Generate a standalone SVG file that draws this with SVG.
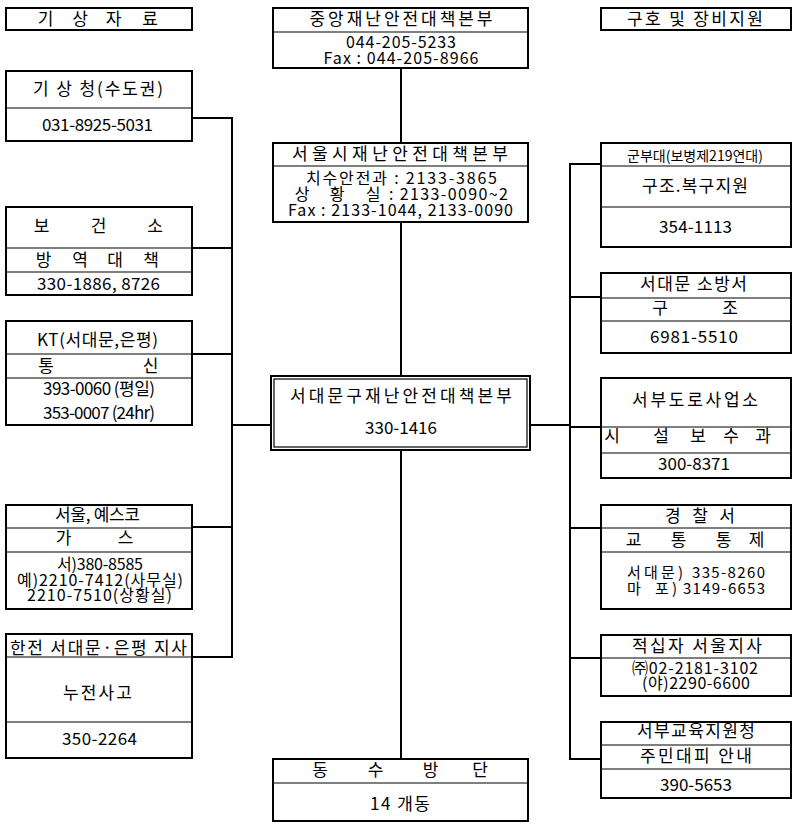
<svg xmlns="http://www.w3.org/2000/svg" width="795" height="829" viewBox="0 0 795 829">
<style>
  .box{fill:#fff;stroke:#000;stroke-width:2}
  .div{stroke:#000;stroke-width:1.2;fill:none}
  .con{stroke:#000;stroke-width:2;fill:none}
  text{font-family:"Noto Sans CJK KR","Malgun Gothic","Noto Sans",sans-serif;font-size:17px;fill:#000}
  .m{text-anchor:middle}
  .sm{font-size:14px}
  .t{font-size:16px}
  .tt{font-size:15px}
</style>
<rect width="795" height="829" fill="#fff"/>
<g id="connectors">
  <path class="con" d="M401 69V142M401 223V375M401 451V758"/>
  <path class="con" d="M193 118H232V657H193M193 248H232M193 354H232M193 527H232M232 425H270"/>
  <path class="con" d="M600 164H570V759H600M570 297H600M570 427H600M570 528H600M570 658H600M531 425H570"/>
</g>
<g id="n-weather-header">
  <rect class="box" x="6" y="8" width="186" height="22"/>
  <text class="m" x="45.5" y="25">기</text><text class="m" x="80" y="25">상</text><text class="m" x="113.5" y="25">자</text><text class="m" x="150" y="25">료</text>
</g>
<g id="n-central">
  <rect class="box" x="273" y="8" width="255" height="60"/>
  <line class="div" x1="273" y1="32" x2="528" y2="32"/>
  <text class="m" x="401" y="25" textLength="183" lengthAdjust="spacing">중앙재난안전대책본부</text>
  <text class="m t" x="401" y="48" textLength="110" lengthAdjust="spacing">044-205-5233</text>
  <text class="m t" x="401" y="64" textLength="155" lengthAdjust="spacing">Fax : 044-205-8966</text>
</g>
<g id="n-relief-header">
  <rect class="box" x="601" y="8" width="190" height="22"/>
  <text class="m" x="695" y="25" textLength="136" lengthAdjust="spacing">구호 및 장비지원</text>
</g>
<g id="n-kma">
  <rect class="box" x="6" y="71" width="186" height="70"/>
  <line class="div" x1="6" y1="108" x2="192" y2="108"/>
  <text class="m" x="98" y="95" textLength="130" lengthAdjust="spacing">기 상 청(수도권)</text>
  <text class="m" x="97.5" y="131" textLength="111" lengthAdjust="spacing">031-8925-5031</text>
</g>
<g id="n-seoul">
  <rect class="box" x="273" y="143" width="255" height="79"/>
  <line class="div" x1="273" y1="166" x2="528" y2="166"/>
  <text class="m" x="400" y="160" textLength="216" lengthAdjust="spacing">서울시재난안전대책본부</text>
  <text class="m t" x="401.5" y="184" textLength="191" lengthAdjust="spacing">치수안전과 : 2133-3865</text>
  <text class="m t" x="302" y="200">상</text><text class="m t" x="337" y="200">황</text><text class="m t" x="373" y="200">실</text>
  <text class="t" x="389" y="200" textLength="119" lengthAdjust="spacing">: 2133-0090~2</text>
  <text class="m t" x="400.5" y="216" textLength="225" lengthAdjust="spacing">Fax : 2133-1044, 2133-0090</text>
</g>
<g id="n-army">
  <rect class="box" x="601" y="143" width="190" height="104"/>
  <line class="div" x1="601" y1="166" x2="791" y2="166"/>
  <line class="div" x1="601" y1="207" x2="791" y2="207"/>
  <text class="m sm" x="695" y="161" textLength="136" lengthAdjust="spacingAndGlyphs">군부대(보병제219연대)</text>
  <text class="m" x="695" y="192" textLength="106" lengthAdjust="spacing">구조.복구지원</text>
  <text class="m" x="695.5" y="233" textLength="73" lengthAdjust="spacing">354-1113</text>
</g>
<g id="n-health">
  <rect class="box" x="6" y="207" width="186" height="88"/>
  <line class="div" x1="6" y1="248" x2="192" y2="248"/>
  <line class="div" x1="6" y1="272" x2="192" y2="272"/>
  <text class="m" x="41.5" y="232">보</text><text class="m" x="98.5" y="232">건</text><text class="m" x="155" y="232">소</text>
  <text class="m" x="43.5" y="266">방</text><text class="m" x="80" y="266">역</text><text class="m" x="115" y="266">대</text><text class="m" x="151" y="266">책</text>
  <text class="m" x="98.5" y="290" textLength="123" lengthAdjust="spacing">330-1886, 8726</text>
</g>
<g id="n-fire">
  <rect class="box" x="601" y="273" width="190" height="80"/>
  <line class="div" x1="601" y1="298" x2="791" y2="298"/>
  <line class="div" x1="601" y1="321" x2="791" y2="321"/>
  <text class="m" x="693.5" y="290" textLength="107" lengthAdjust="spacing">서대문 소방서</text>
  <text class="m" x="660" y="314">구</text><text class="m" x="730" y="314">조</text>
  <text class="m" x="694" y="343" textLength="88" lengthAdjust="spacing">6981-5510</text>
</g>
<g id="n-kt">
  <rect class="box" x="6" y="321" width="186" height="104"/>
  <line class="div" x1="6" y1="354" x2="192" y2="354"/>
  <line class="div" x1="6" y1="378" x2="192" y2="378"/>
  <text class="m" x="97.5" y="346" textLength="121" lengthAdjust="spacing">KT(서대문,은평)</text>
  <text class="m" x="46" y="372">통</text><text class="m" x="150.5" y="372">신</text>
  <text class="m" x="99" y="395" textLength="112" lengthAdjust="spacing">393-0060 (평일)</text>
  <text class="m" x="99" y="419" textLength="112" lengthAdjust="spacing">353-0007 (24hr)</text>
</g>
<g id="n-center">
  <rect class="box" x="271" y="376" width="259" height="74"/>
  <rect x="274" y="379" width="253" height="68" fill="none" stroke="#000" stroke-width="1.2"/>
  <text class="m" x="401" y="402" textLength="222" lengthAdjust="spacing">서대문구재난안전대책본부</text>
  <text class="m" x="401" y="434" textLength="72" lengthAdjust="spacing">330-1416</text>
</g>
<g id="n-road">
  <rect class="box" x="601" y="378" width="190" height="100"/>
  <line class="div" x1="601" y1="427" x2="791" y2="427"/>
  <line class="div" x1="601" y1="453" x2="791" y2="453"/>
  <text class="m" x="695" y="406" textLength="126" lengthAdjust="spacing">서부도로사업소</text>
  <text class="m" x="612" y="442">시</text><text class="m" x="661" y="442">설</text><text class="m" x="698" y="442">보</text><text class="m" x="731" y="442">수</text><text class="m" x="763" y="442">과</text>
  <text class="m" x="694" y="470" textLength="72" lengthAdjust="spacing">300-8371</text>
</g>
<g id="n-gas">
  <rect class="box" x="6" y="505" width="186" height="104"/>
  <line class="div" x1="6" y1="528" x2="192" y2="528"/>
  <line class="div" x1="6" y1="552" x2="192" y2="552"/>
  <text class="m" x="97.5" y="521" textLength="85" lengthAdjust="spacing">서울, 예스코</text>
  <text class="m" x="63.5" y="544">가</text><text class="m" x="125.5" y="544">스</text>
  <text class="m t" x="100" y="570" textLength="86" lengthAdjust="spacing">서)380-8585</text>
  <text class="m t" x="100" y="586" textLength="166" lengthAdjust="spacing">예)2210-7412(사무실)</text>
  <text class="m t" x="99.5" y="601" textLength="145" lengthAdjust="spacing">2210-7510(상황실)</text>
</g>
<g id="n-police">
  <rect class="box" x="601" y="505" width="190" height="104"/>
  <line class="div" x1="601" y1="528" x2="791" y2="528"/>
  <line class="div" x1="601" y1="552" x2="791" y2="552"/>
  <text class="m" x="700" y="522" textLength="70" lengthAdjust="spacing">경 찰 서</text>
  <text class="m" x="633.5" y="546">교</text><text class="m" x="678.5" y="546">통</text><text class="m" x="723.5" y="546">통</text><text class="m" x="756.5" y="546">제</text>
  <text class="tt" x="627" y="578" textLength="56" lengthAdjust="spacing">서대문)</text>
  <text class="tt" x="692" y="578" textLength="73" lengthAdjust="spacing">335-8260</text>
  <text class="tt" x="627" y="594">마</text>
  <text class="tt" x="655" y="594" textLength="22" lengthAdjust="spacing">포)</text>
  <text class="tt" x="683" y="594" textLength="82" lengthAdjust="spacing">3149-6653</text>
</g>
<g id="n-kepco">
  <rect class="box" x="6" y="634" width="186" height="124"/>
  <line class="div" x1="6" y1="657" x2="192" y2="657"/>
  <line class="div" x1="6" y1="722" x2="192" y2="722"/>
  <text class="m" x="98.5" y="654" textLength="177" lengthAdjust="spacing">한전 서대문·은평 지사</text>
  <text class="m" x="97.5" y="699" textLength="69" lengthAdjust="spacing">누전사고</text>
  <text class="m" x="99.5" y="745" textLength="75" lengthAdjust="spacing">350-2264</text>
</g>
<g id="n-redcross">
  <rect class="box" x="601" y="635" width="190" height="61"/>
  <line class="div" x1="601" y1="658" x2="791" y2="658"/>
  <text class="m" x="697" y="652" textLength="130" lengthAdjust="spacing">적십자 서울지사</text>
  <text class="m t" x="695" y="674" textLength="126" lengthAdjust="spacing">㈜02-2181-3102</text>
  <text class="m t" x="696" y="689" textLength="108" lengthAdjust="spacing">(야)2290-6600</text>
</g>
<g id="n-education">
  <rect class="box" x="601" y="722" width="190" height="76"/>
  <line class="div" x1="601" y1="745" x2="791" y2="745"/>
  <line class="div" x1="601" y1="769" x2="791" y2="769"/>
  <text class="m" x="696" y="737" textLength="118" lengthAdjust="spacing">서부교육지원청</text>
  <text class="m" x="696" y="762" textLength="112" lengthAdjust="spacing">주민대피 안내</text>
  <text class="m" x="696" y="791" textLength="72" lengthAdjust="spacing">390-5653</text>
</g>
<g id="n-dongsu">
  <rect class="box" x="273" y="759" width="255" height="62"/>
  <line class="div" x1="273" y1="783" x2="528" y2="783"/>
  <text class="m" x="320" y="776">동</text><text class="m" x="375.5" y="776">수</text><text class="m" x="430.5" y="776">방</text><text class="m" x="480" y="776">단</text>
  <text class="m" x="400" y="810" textLength="60" lengthAdjust="spacing">14 개동</text>
</g>
</svg>
